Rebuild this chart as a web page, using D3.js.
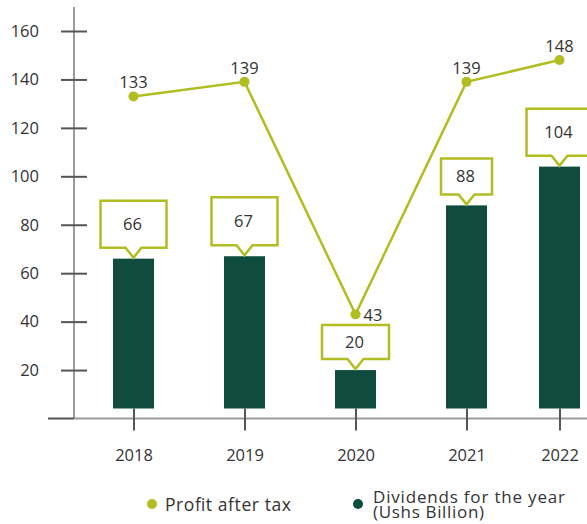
<!DOCTYPE html>
<html>
<head>
<meta charset="utf-8">
<script src="https://cdn.jsdelivr.net/npm/d3@7"></script>
<style>
  html, body { margin: 0; padding: 0; background: #fff; }
  svg { display: block; font-family: "Open Sans", Lato, sans-serif; }
  svg text { font-family: "Open Sans", Lato, sans-serif; font-size: 16.5px; fill: #333; }
</style>
</head>
<body>
<svg id="chart" width="587" height="524"></svg>
<script>
// Data
const years = [2018, 2019, 2020, 2021, 2022];
const dividends = [66, 67, 20, 88, 104];
const profit = [133, 139, 43, 139, 148];
const yTickValues = [20, 40, 60, 80, 100, 120, 140, 160];
const legendLabels = ["Profit after tax", "Dividends for the year", "(Ushs Billion)"];

// Callout box sizes (width, height) per bar
const calloutSize = [[66, 47], [66, 48], [67, 34], [51, 36], [66, 47]];

const lime = "#b2bd22";
const forest = "#104c3d";

const svg = d3.select("#chart");

const x = d3.scaleLinear().domain([2018, 2021, 2022]).range([133.5, 466.5, 559.5]);
const y = d3.scaleLinear().domain([0, 160]).range([418.5, 31]);

const barW = 41;
const barBase = y(0) - 10;

// Axis lines
svg.append("line").attr("x1", 74).attr("x2", 74).attr("y1", 7).attr("y2", y(0))
  .attr("stroke", "#9a9a9a").attr("stroke-width", 2);
svg.append("line").attr("x1", 74).attr("x2", 587).attr("y1", y(0)).attr("y2", y(0))
  .attr("stroke", "#9a9a9a").attr("stroke-width", 2);
svg.append("line").attr("x1", 48).attr("x2", 74).attr("y1", y(0)).attr("y2", y(0))
  .attr("stroke", "#555").attr("stroke-width", 2);

// Y axis ticks + labels
const yAxis = svg.append("g").attr("transform", "translate(87,0)")
  .call(d3.axisLeft(y).tickValues(yTickValues).tickSize(26).tickPadding(22));
yAxis.select(".domain").remove();
yAxis.selectAll(".tick line").attr("stroke", "#555").attr("stroke-width", 2);
yAxis.attr("font-family", null).attr("font-size", null);

// X axis ticks + labels
const xAxis = svg.append("g").attr("transform", `translate(0,${barBase})`)
  .call(d3.axisBottom(x).tickValues(years).tickFormat(d3.format("d")).tickSize(22).tickPadding(19));
xAxis.select(".domain").remove();
xAxis.selectAll(".tick line").attr("stroke", "#555").attr("stroke-width", 2);
xAxis.attr("font-family", null).attr("font-size", null);

// Bars
svg.append("g").selectAll("rect").data(years).join("rect")
  .attr("x", (d) => x(d) - barW / 2)
  .attr("y", (d, i) => y(dividends[i]))
  .attr("width", barW)
  .attr("height", (d, i) => barBase - y(dividends[i]))
  .attr("fill", forest);

// Callouts above bars
const notch = 10, notchHalf = 8;
const callouts = svg.append("g").selectAll("g").data(years).join("g");
callouts.append("path")
  .attr("d", (d, i) => {
    const cx = x(d), tip = y(dividends[i]) - 1;
    const [w, h] = calloutSize[i];
    const bottom = tip - notch, top = bottom - h;
    const l = cx - w / 2, r = cx + w / 2;
    return `M${l},${top}H${r}V${bottom}H${cx + notchHalf}L${cx},${tip}L${cx - notchHalf},${bottom}H${l}Z`;
  })
  .attr("fill", "#fff").attr("stroke", lime).attr("stroke-width", 2.5).attr("stroke-linejoin", "miter");
callouts.append("text")
  .attr("x", (d) => x(d) - 1)
  .attr("y", (d, i) => y(dividends[i]) - 1 - notch - calloutSize[i][1] / 2 + 6)
  .attr("text-anchor", "middle")
  .text((d, i) => dividends[i]);

// Profit line
const pts = years.map((d, i) => [x(d), y(profit[i])]);
svg.append("path").attr("d", d3.line()(pts))
  .attr("fill", "none").attr("stroke", lime).attr("stroke-width", 2.5);
svg.append("g").selectAll("circle").data(pts).join("circle")
  .attr("cx", (d) => d[0]).attr("cy", (d) => d[1]).attr("r", 5).attr("fill", lime);
svg.append("g").selectAll("text").data(years).join("text")
  .attr("x", (d, i) => i === 2 ? x(d) + 8 : x(d))
  .attr("y", (d, i) => i === 2 ? y(profit[i]) + 7 : y(profit[i]) - 8)
  .attr("text-anchor", (d, i) => i === 2 ? "start" : "middle")
  .text((d, i) => profit[i]);

// Legend
const legend = svg.append("g");
legend.append("circle").attr("cx", 152).attr("cy", 504).attr("r", 5).attr("fill", lime);
legend.append("text").attr("x", 165).attr("y", 511).style("font-size", "17.5px")
  .attr("textLength", 126).attr("lengthAdjust", "spacing").text(legendLabels[0]);
legend.append("circle").attr("cx", 358).attr("cy", 504).attr("r", 5).attr("fill", forest);
legend.append("text").attr("x", 373).attr("y", 503).style("font-size", "17px")
  .attr("textLength", 192).attr("lengthAdjust", "spacing").text(legendLabels[1]);
legend.append("text").attr("x", 373).attr("y", 518).style("font-size", "17px")
  .attr("textLength", 111).attr("lengthAdjust", "spacing").text(legendLabels[2]);
</script>
</body>
</html>
